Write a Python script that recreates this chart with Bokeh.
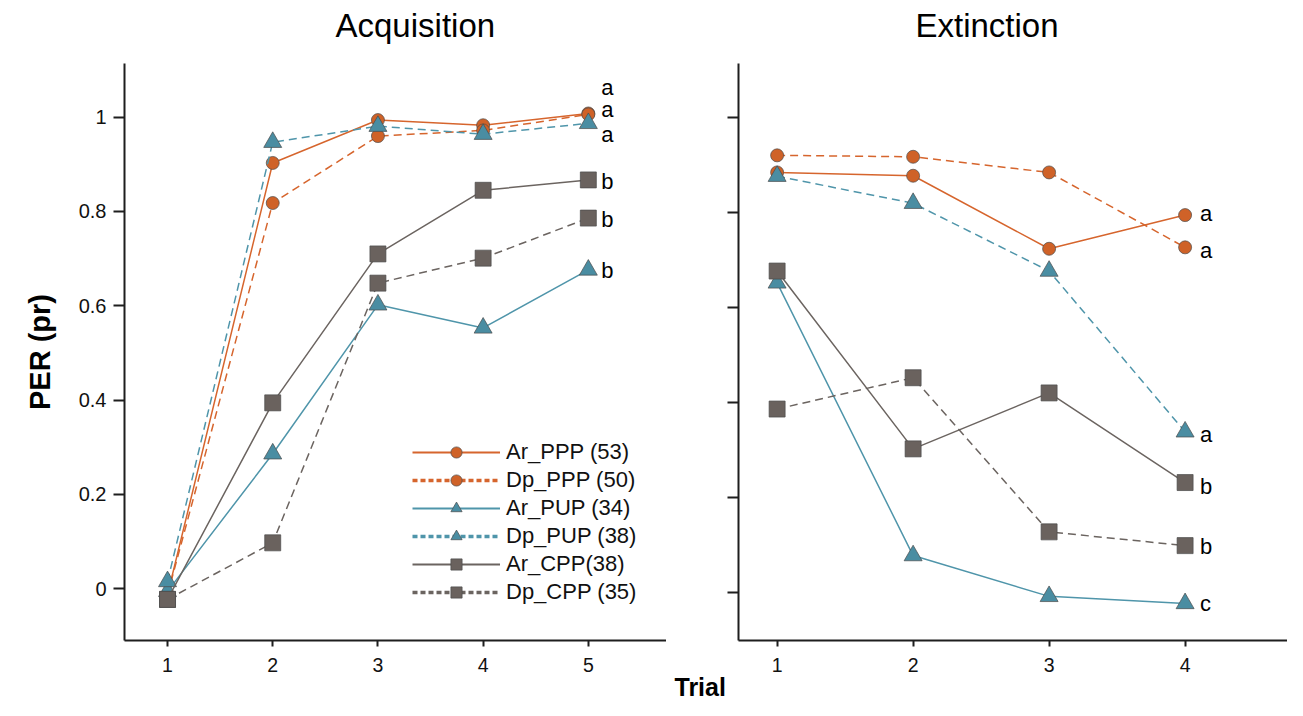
from bokeh.plotting import figure
from bokeh.layouts import row
from bokeh.models import (Range1d, FixedTicker, Legend, LegendItem, Title,
                          CustomJSTickFormatter)
from bokeh.embed import file_html
from bokeh.resources import INLINE
from bokeh.core.properties import value

FONT = "Liberation Sans"
NAN = float("nan")

# ---------------- data ----------------
acq_trials = [1, 2, 3, 4, 5]
ext_trials = [1, 2, 3, 4]

series_names = ["Ar_PPP (53)", "Dp_PPP (50)", "Ar_PUP (34)",
                "Dp_PUP (38)", "Ar_CPP(38)", "Dp_CPP (35)"]

acq_ar_ppp = [-0.013, 0.903, 0.994, 0.983, 1.008]
acq_dp_ppp = [-0.013, 0.818, 0.960, 0.972, 1.006]
acq_ar_pup = [-0.006, 0.286, 0.602, 0.553, 0.676]
acq_dp_pup = [0.015, 0.947, 0.981, 0.964, 0.987]
acq_ar_cpp = [-0.023, 0.394, 0.710, 0.845, 0.867]
acq_dp_cpp = [-0.023, 0.097, 0.648, 0.701, 0.786]

ext_ar_ppp = [0.885, 0.878, 0.724, 0.795]
ext_dp_ppp = [0.921, 0.918, 0.885, 0.727]
ext_ar_pup = [0.652, 0.077, -0.009, -0.024]
ext_dp_pup = [0.877, 0.820, 0.677, 0.338]
ext_ar_cpp = [0.677, 0.302, 0.420, 0.231]
ext_dp_cpp = [0.386, 0.452, 0.127, 0.098]

acq_letters = ["a", "a", "a", "b", "b", "b"]
acq_letter_y = [1.064, 1.017, 0.964, 0.864, 0.782, 0.674]
ext_letters = ["a", "a", "a", "b", "b", "c"]
ext_letter_y = [0.799, 0.721, 0.332, 0.222, 0.096, -0.024]

y_ticks = [0, 0.2, 0.4, 0.6, 0.8, 1]
y_tick_labels = ["0", "0.2", "0.4", "0.6", "0.8", "1"]

acq_title = "Acquisition"
ext_title = "Extinction"
y_label = "PER (pr)"
x_label = "Trial"

# ---------------- styles ----------------
ORANGE = "#d6652d"
BLUE = "#4f95aa"
GRAY = "#6b6460"
M_ORANGE = "#cf6228"
M_BLUE = "#4a8da2"
M_GRAY = "#6a625e"
OUTLINE = "#4a4a4a"
AXIS = "#1e1e1e"

acq_vals = [acq_ar_ppp, acq_dp_ppp, acq_ar_pup, acq_dp_pup, acq_ar_cpp, acq_dp_cpp]
ext_vals = [ext_ar_ppp, ext_dp_ppp, ext_ar_pup, ext_dp_pup, ext_ar_cpp, ext_dp_cpp]
styles = [
    (ORANGE, M_ORANGE, "circle", 13, False),
    (ORANGE, M_ORANGE, "circle", 13, True),
    (BLUE, M_BLUE, "triangle", 18, False),
    (BLUE, M_BLUE, "triangle", 18, True),
    (GRAY, M_GRAY, "square", 16, False),
    (GRAY, M_GRAY, "square", 16, True),
]

H = 700


def style_axes(p, y_labels=True, x_standoff=10):
    p.xgrid.visible = False
    p.ygrid.visible = False
    p.outline_line_color = None
    for ax in (p.xaxis[0], p.yaxis[0]):
        ax.axis_line_width = 2
        ax.axis_line_color = AXIS
        ax.major_tick_line_width = 2
        ax.major_tick_line_color = AXIS
        ax.minor_tick_line_color = None
        ax.major_tick_in = 0
        ax.major_label_text_font = FONT
        ax.major_label_text_color = "#111111"
    p.xaxis.major_label_text_font_size = "19.5px"
    p.yaxis.major_label_text_font_size = "20px"
    p.xaxis.major_tick_out = 6
    p.xaxis.major_label_standoff = x_standoff
    p.yaxis.major_tick_out = 11
    p.yaxis.major_label_standoff = 7
    p.yaxis.ticker = FixedTicker(ticks=y_ticks)
    if y_labels:
        p.yaxis.major_label_overrides = {t: l for t, l in zip(y_ticks, y_tick_labels)}
    else:
        p.yaxis.formatter = CustomJSTickFormatter(code="return ''")


def draw_series(p, xs, vals):
    scat = []
    for v, (lc, mc, mk, sz, dashed) in zip(vals, styles):
        p.line(xs, v, line_color=lc, line_width=1.5,
               line_dash="8 5" if dashed else "solid")
        scat.append(p.scatter(xs, v, marker=mk, size=sz, fill_color=mc,
                              line_color=OUTLINE, line_width=0.7))
    return scat


def add_title(p, text, offset):
    p.add_layout(Title(text=text, align="left", offset=offset,
                       text_font=FONT, text_font_size="33px",
                       text_font_style="normal", text_color="#000000",
                       standoff=0,
                       padding=dict(left=0, right=0, top=0, bottom=20)), "above")


# ---------------- left panel ----------------
p1 = figure(width=666, height=H, x_range=Range1d(0.591, 5.743),
            y_range=Range1d(-0.1102, 1.114), output_backend="svg",
            toolbar_location=None, min_border_left=124, min_border_right=0,
            min_border_top=63, min_border_bottom=59)
style_axes(p1, y_labels=True, x_standoff=11)
p1.xaxis.ticker = FixedTicker(ticks=acq_trials)
p1.yaxis.axis_label = y_label
p1.yaxis.axis_label_text_font = FONT
p1.yaxis.axis_label_text_font_size = "29px"
p1.yaxis.axis_label_text_font_style = "bold"
p1.yaxis.axis_label_text_color = "#000000"
p1.yaxis.axis_label_standoff = 20
add_title(p1, acq_title, 211)

acq_scatters = draw_series(p1, acq_trials, acq_vals)
p1.text(x=[acq_trials[-1]] * len(acq_letters), y=acq_letter_y, text=acq_letters,
        x_offset=13, text_align="left", text_baseline="middle",
        text_font=value(FONT), text_font_size="22px", text_color="#000000")

# legend key lines (no visible data in the plot) styled like the original key
items = []
for name, (lc, mc, mk, sz, dashed), sr in zip(series_names, styles, acq_scatters):
    lr = p1.line(x=[NAN], y=[NAN], line_color=lc,
                 line_width=3.5 if dashed else 2,
                 line_dash="5 3" if dashed else "solid")
    items.append(LegendItem(label=name, renderers=[lr, sr]))
legend = Legend(items=items, location=(288, 34), orientation="vertical",
                border_line_color=None, background_fill_alpha=0,
                padding=0, margin=0, glyph_width=88, glyph_height=28,
                label_height=28, spacing=0, label_standoff=6,
                label_text_font=FONT, label_text_font_size="22px",
                label_text_color="#111111")
p1.add_layout(legend)

# ---------------- middle strip holding the shared x label ----------------
pm = figure(width=61, height=H, x_range=Range1d(0, 1), y_range=Range1d(0, 1),
            output_backend="svg", toolbar_location=None,
            x_axis_location=None, y_axis_location=None,
            min_border_left=0, min_border_right=0, min_border_top=63,
            min_border_bottom=59)
pm.xgrid.visible = False
pm.ygrid.visible = False
pm.outline_line_color = None
pm.add_layout(Title(text=x_label, align="left", offset=8,
                    text_font=FONT, text_font_size="25px",
                    text_font_style="bold", text_color="#000000",
                    standoff=0,
                    padding=dict(left=0, right=0, top=30, bottom=0)), "below")

# ---------------- right panel ----------------
p2 = figure(width=560, height=H, x_range=Range1d(0.716, 4.753),
            y_range=Range1d(-0.1021, 1.1147), output_backend="svg",
            toolbar_location=None, min_border_left=11, min_border_right=0,
            min_border_top=63, min_border_bottom=59)
style_axes(p2, y_labels=False, x_standoff=11)
p2.xaxis.ticker = FixedTicker(ticks=ext_trials)
add_title(p2, ext_title, 177)

draw_series(p2, ext_trials, ext_vals)
p2.text(x=[ext_trials[-1]] * len(ext_letters), y=ext_letter_y, text=ext_letters,
        x_offset=15, text_align="left", text_baseline="middle",
        text_font=value(FONT), text_font_size="22px", text_color="#000000")

layout = row(p1, pm, p2)
open("out.html", "w").write(file_html(layout, INLINE))
